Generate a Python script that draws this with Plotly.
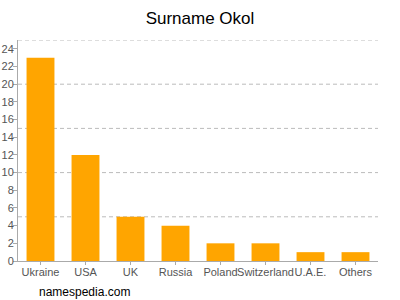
import plotly.graph_objects as go

countries = ["Ukraine", "USA", "UK", "Russia", "Poland", "Switzerland", "U.A.E.", "Others"]
counts = [23, 12, 5, 4, 2, 2, 1, 1]
y_ticks = list(range(0, 25, 2))
grid_values = [5, 10, 15, 20, 25]

fig = go.Figure(go.Bar(x=countries, y=counts, marker=dict(color="#FFA500", line=dict(width=0))))

shapes = [dict(type="line", xref="paper", yref="y", x0=0, x1=1, y0=g, y1=g,
               line=dict(color="#bbbbbb", width=1, dash="4px,3px"), layer="below") for g in grid_values]

fig.update_layout(
    width=400, height=300,
    margin=dict(l=18, r=22, t=40, b=39, autoexpand=False),
    paper_bgcolor="white", plot_bgcolor="white",
    bargap=0.38,
    showlegend=False,
    shapes=shapes,
    font=dict(family="Liberation Sans, Arial, sans-serif", color="#555555", size=11),
    title=dict(text="Surname Okol", x=0.5, xanchor="center", y=0.94, yanchor="middle",
               font=dict(size=17, color="#000000")),
    xaxis=dict(showline=True, linecolor="#aaaaaa", linewidth=1, ticks="outside", ticklen=3,
               tickcolor="#aaaaaa", showgrid=False, tickangle=0, automargin=False,
               ticklabelstandoff=-2, tickfont=dict(size=11, color="#555555")),
    yaxis=dict(range=[0, 25], tickvals=y_ticks, showline=True, linecolor="#aaaaaa", linewidth=1,
               ticks="outside", ticklen=4, tickcolor="#aaaaaa", showgrid=False, zeroline=False,
               automargin=False, ticklabelstandoff=-3, tickfont=dict(size=11, color="#555555")),
    annotations=[dict(text="namespedia.com", xref="paper", yref="paper", x=0.053, y=-0.14,
                      xanchor="left", yanchor="middle", showarrow=False,
                      font=dict(size=12, color="#000000"))],
)

fig.write_html("out.html")
